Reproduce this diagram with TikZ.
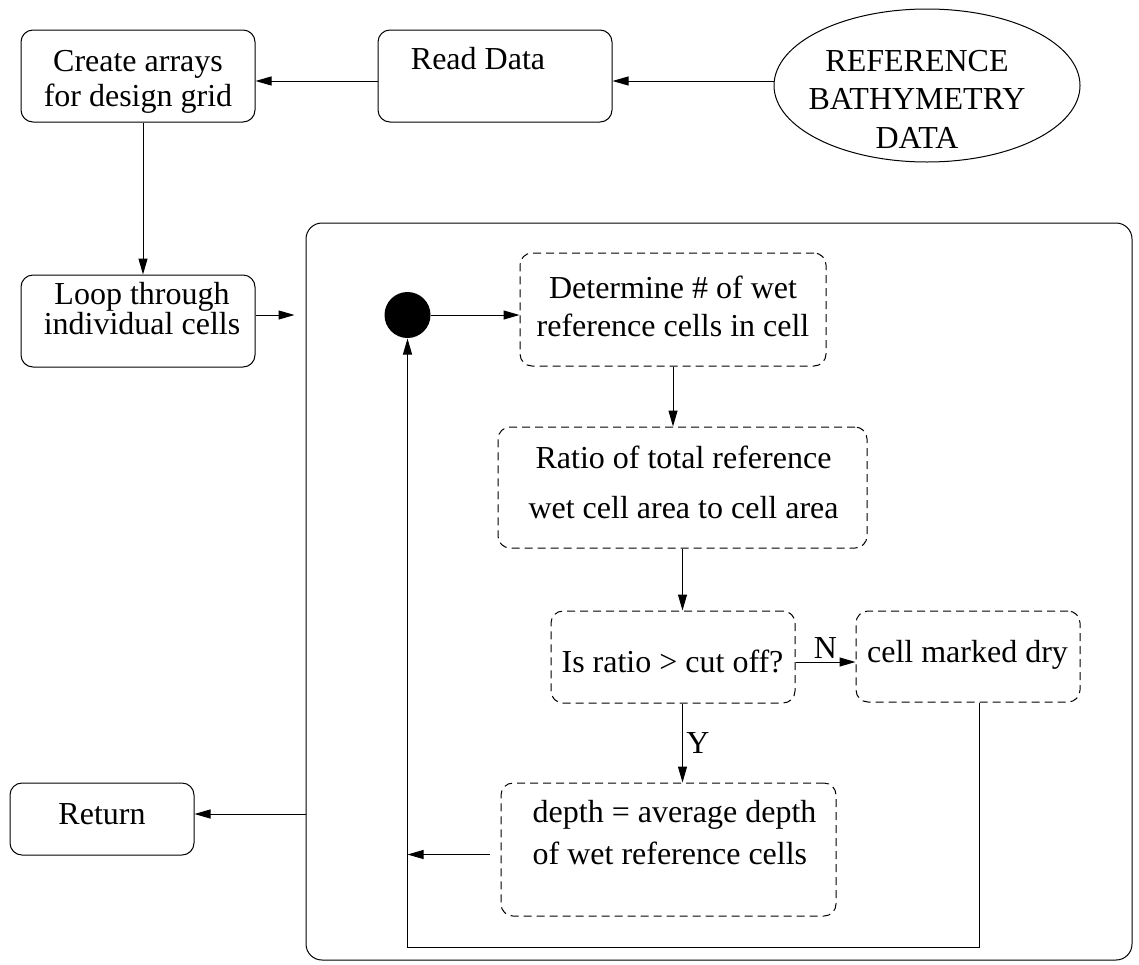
\documentclass[tikz,border=0pt]{standalone}
\usepackage{fontspec}
\setmainfont{Liberation Serif}
\usetikzlibrary{arrows.meta,shapes.geometric}
\begin{document}
\begin{tikzpicture}[x=1pt,y=-1pt,
  font=\fontsize{32}{35}\selectfont,
  line width=1pt,
  rbox/.style={draw, rounded corners=12pt, inner sep=0pt},
  dbox/.style={rbox, dash pattern=on 8pt off 5pt},
  txt/.style={inner sep=0pt, align=center},
  arr/.style={-{Triangle[length=16pt,width=9pt]}}]
\useasboundingbox (0,0) rectangle (1139,964);
% top row
\node[rbox, minimum width=234pt, minimum height=92pt] (create) at (138,76){};
\node[txt] (createtxt) at (138,82){Create arrays\\for design grid};
\node[rbox, minimum width=234pt, minimum height=92pt] (read) at (495,76){};
\node[txt] (readtxt) at (478,59){Read Data};
\node[draw, ellipse, minimum width=306pt, minimum height=153pt, inner sep=0pt] (ref) at (927,85.5){};
\node[txt] (reftxt) at (917,99){REFERENCE\\[3.5pt]BATHYMETRY\\[3.5pt]DATA};
% left column
\node[rbox, minimum width=234pt, minimum height=92pt] (loop) at (138,321){};
\node[txt] (looptxt) at (142,309){Loop through\\[-5pt]individual cells};
\node[rbox, minimum width=184pt, minimum height=72pt] (ret) at (102,819){};
\node[txt] (rettxt) at (102,814.5){Return};
% loop body
\node[draw, rounded corners=16pt, minimum width=826pt, minimum height=737pt, inner sep=0pt] (body) at (719,591.5){};
\node[circle, fill, minimum size=46pt, inner sep=0pt] (dot) at (407.5,315){};
\node[dbox, minimum width=306pt, minimum height=113pt] (det) at (673,309.5){};
\node[txt] (dettxt) at (673,306){Determine \# of wet\\[3pt]reference cells in cell};
\node[dbox, minimum width=369pt, minimum height=121pt] (ratio) at (682.5,487.5){};
\node[txt] (ratiotxt) at (683.5,482){Ratio of total reference\\[15pt]wet cell area to cell area};
\node[dbox, minimum width=244pt, minimum height=92pt] (isr) at (673,657){};
\node[txt] (isrtxt) at (672.5,661){Is ratio > cut off?};
\node[dbox, minimum width=224pt, minimum height=91pt] (dry) at (968,656.5){};
\node[txt] (drytxt) at (967.5,654.6){cell marked dry};
\node[dbox, minimum width=335pt, minimum height=133pt] (depth) at (668.5,849.5){};
\node[txt, align=left] (depthtxt) at (674.5,833){depth = average depth\\[7pt]of wet reference cells};
\coordinate (back) at (407.5,947);
% connectors
\draw[arr] ([yshift=-5pt]read.east -| ref.west) -- ([yshift=-5pt]read.east);
\draw[arr] ([yshift=-5pt]read.west) -- ([yshift=-5pt]create.east);
\draw[arr] ([xshift=5pt]create.south) -- ([xshift=5pt]loop.north);
\draw[arr, shorten >=11pt] ([yshift=6pt]loop.east) -- ([yshift=6pt]loop.east -| body.west);
\draw[arr] (dot) -- (dot -| det.west);
\draw[arr] (det) -- (det |- ratio.north);
\draw[arr] (ratio) -- (ratio |- isr.north);
\draw[arr] ([yshift=-5pt]isr.east) -- ([yshift=-5pt]isr.east -| dry.west) node[midway, above] (nlab) {N};
\draw[arr] (isr.south -| ratio) -- (depth.north -| ratio) node[midway, right] (ylab) {Y};
\draw[arr, shorten <=11pt] ([yshift=-5pt]depth.west) -- ([yshift=-5pt]depth.west -| dot);
\draw[arr] ([xshift=11pt]dry.south) |- (back) -- (dot);
\draw[arr] ([yshift=5pt]ret.east -| body.west) -- ([yshift=5pt]ret.east);
\end{tikzpicture}
\end{document}
